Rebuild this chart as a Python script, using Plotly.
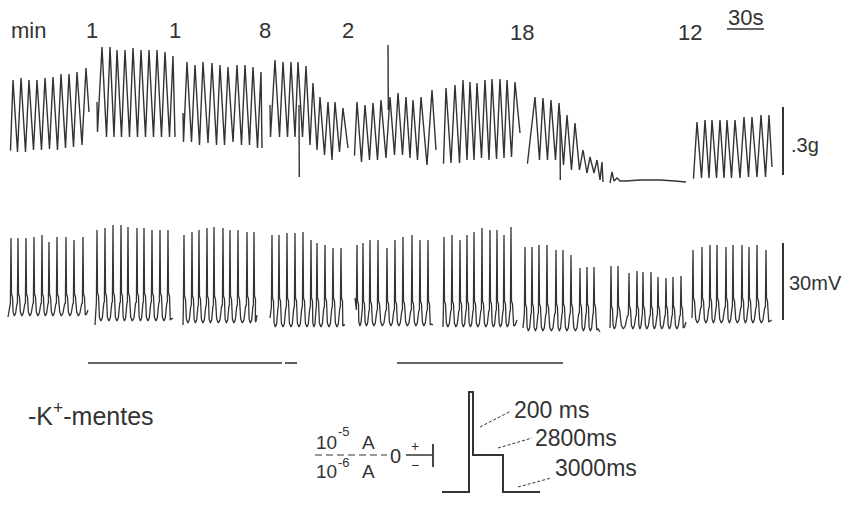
import plotly.graph_objects as go

W, H = 846, 506
INK = "#333333"
FONT = "Liberation Sans, Arial, sans-serif"

# ---------------- top trace: contraction force (screen units, y downward) -------------
force_start_x = [10, 97, 183, 270, 354, 443, 527, 693]
force_start_top = [150, 102, 113, 105, 155, 163, 163, 178]
force_start_bottom = [150, 132, 142, 137, 155, 163, 163, 178]
force_peak_x = [
    [13, 21, 29, 37, 45, 53, 61, 69, 77, 86],
    [102, 110, 117, 125, 133, 141, 149, 157, 165, 173],
    [187, 195, 203, 212, 220, 228, 237, 245, 253, 261],
    [275, 283, 291, 298, 306, 313, 320, 328, 335, 343],
    [357, 365, 373, 381, 390, 398, 406, 413, 421, 432],
    [446, 455, 463, 470, 477, 485, 492, 500, 507, 515],
    [535, 543, 551, 559, 567, 575, 583, 590, 597, 602],
    [697, 705, 712, 720, 727, 735, 744, 752, 761, 769],
]
force_peak_y = [
    [80, 78, 80, 80, 78, 77, 74, 74, 72, 68],
    [47, 47, 50, 50, 48, 50, 50, 50, 52, 56],
    [62, 65, 62, 63, 65, 67, 65, 65, 67, 72],
    [60, 62, 62, 62, 66, 83, 97, 102, 102, 108],
    [102, 105, 103, 100, 97, 93, 97, 100, 97, 90],
    [88, 85, 80, 82, 83, 80, 79, 79, 80, 82],
    [97, 98, 100, 103, 115, 123, 150, 157, 160, 162],
    [122, 120, 120, 120, 120, 120, 117, 117, 115, 115],
]
force_trough_y = [
    [152, 152, 150, 150, 149, 150, 148, 147, 145],
    [137, 137, 137, 137, 137, 137, 137, 137, 137],
    [142, 145, 143, 145, 145, 142, 145, 145, 148],
    [137, 137, 137, 137, 145, 150, 155, 160, 152],
    [162, 160, 160, 158, 155, 155, 158, 160, 165],
    [163, 163, 160, 160, 158, 160, 159, 158, 157],
    [160, 160, 160, 165, 170, 170, 173, 173, 180],
    [178, 178, 178, 178, 178, 178, 177, 177, 177],
]
force_end_x = [89, 175, 262, 348, 436, 520, 603, 772]
force_end_y = [112, 137, 148, 148, 150, 133, 182, 167]

force_artifact_x = [299, 388, 560]
force_artifact_top = [105, 45, 115]
force_artifact_bottom = [177, 110, 180]

force_flat_x = [610, 612, 614, 617, 620, 626, 640, 660, 675, 686]
force_flat_y = [183, 172, 181, 178, 181, 181, 180, 180, 181, 182]

# ---------------- bottom trace: membrane potential -------------
mp_start_x = [8, 95, 183, 270, 355, 443, 523, 610, 692]
mp_start_y = [317, 325, 325, 318, 298, 327, 328, 328, 318]
mp_spike_x = [
    [11, 18, 26, 34, 42, 49, 57, 66, 74, 83],
    [97, 105, 113, 121, 128, 137, 144, 152, 160, 168],
    [184, 192, 199, 207, 214, 223, 230, 238, 247, 254],
    [272, 279, 287, 295, 303, 311, 317, 325, 333, 341],
    [357, 363, 370, 378, 387, 395, 403, 412, 420, 428],
    [444, 452, 460, 467, 474, 482, 490, 497, 504, 511],
    [525, 532, 539, 547, 556, 563, 571, 580, 587, 594],
    [611, 618, 629, 637, 643, 651, 658, 666, 673, 681],
    [693, 702, 710, 717, 726, 733, 742, 749, 757, 766],
]
mp_spike_top = [
    [238, 238, 238, 237, 235, 242, 237, 237, 240, 237],
    [230, 228, 225, 225, 227, 228, 228, 230, 230, 230],
    [235, 232, 230, 228, 227, 228, 230, 230, 232, 232],
    [235, 235, 233, 233, 232, 240, 243, 245, 248, 248],
    [245, 243, 240, 240, 248, 240, 237, 235, 240, 240],
    [237, 235, 240, 235, 232, 228, 230, 230, 235, 227],
    [247, 247, 245, 245, 250, 250, 255, 268, 267, 267],
    [266, 266, 273, 271, 272, 272, 277, 278, 277, 276],
    [250, 247, 245, 245, 247, 245, 245, 247, 245, 250],
]
mp_plateau = [298, 297, 300, 302, 305, 305, 308, 310, 302]
mp_trough = [315, 320, 322, 326, 325, 326, 330, 328, 322]
mp_end_x = [88, 173, 257, 345, 433, 517, 600, 686, 772]
mp_end_y = [310, 318, 315, 325, 325, 320, 332, 322, 320]

# ---------------- annotations / calibration -------------
top_labels = ["min", "1", "1", "8", "2", "18", "12"]
top_label_x = [28, 92, 175, 265, 348, 522, 690]
top_label_y = [30, 30, 30, 30, 30, 32, 32]

time_bar_label = "30s"
force_cal_label = ".3g"
mp_cal_label = "30mV"
cal_bar_x = [783, 783]
cal_bar_top = [107, 243]
cal_bar_bottom = [175, 320]

treatment_bar_x0 = [88, 285, 397]
treatment_bar_x1 = [282, 297, 563]
treatment_bar_y = 363

pulse_x = [442, 469, 469, 473, 473, 503, 503, 540]
pulse_y = [492, 492, 392, 392, 455, 455, 492, 492]
pulse_labels = ["200 ms", "2800ms", "3000ms"]
pulse_label_x = [512, 533, 553]
pulse_label_y = [410, 438, 468]
leader_x0 = [480, 498, 518]
leader_y0 = [427, 448, 487]
leader_x1 = [511, 532, 551]
leader_y1 = [411, 438, 478]


def force_path():
    xs, ys = [], []
    for k in range(len(force_peak_x)):
        xs += [force_start_x[k], force_start_x[k] + 0.5]
        ys += [force_start_top[k], force_start_bottom[k]]
        px, py, ty = force_peak_x[k], force_peak_y[k], force_trough_y[k]
        for i in range(len(px)):
            xs.append(px[i]); ys.append(py[i])
            if i < len(px) - 1:
                xs.append((px[i] + px[i + 1]) / 2 + 0.5); ys.append(ty[i])
        xs += [force_end_x[k], None]
        ys += [force_end_y[k], None]
    for x, t, b in zip(force_artifact_x, force_artifact_top, force_artifact_bottom):
        xs += [x, x + 0.3, None]
        ys += [t, b, None]
    xs += force_flat_x + [None]
    ys += force_flat_y + [None]
    return xs, ys


def mp_path():
    xs, ys = [], []
    for k in range(len(mp_spike_x)):
        sx, st = mp_spike_x[k], mp_spike_top[k]
        pl, tr = mp_plateau[k], mp_trough[k]
        xs.append(mp_start_x[k]); ys.append(mp_start_y[k])
        for i in range(len(sx)):
            nxt = sx[i + 1] if i < len(sx) - 1 else mp_end_x[k]
            p = nxt - sx[i]
            xs += [sx[i] - 0.6, sx[i], sx[i] + 0.5, sx[i] + 1.5]
            ys += [pl + 5, st[i], pl - 4, pl - 1]
            if i < len(sx) - 1:
                xs += [sx[i] + 0.3 * p, sx[i] + 0.48 * p, sx[i] + 0.66 * p, sx[i] + 0.85 * p]
                ys += [tr - 3, tr + 1, tr - 2, pl + 6]
            else:
                xs += [sx[i] + 0.45 * p, sx[i] + 0.7 * p]
                ys += [tr, tr - 1]
        xs += [mp_end_x[k], None]
        ys += [mp_end_y[k], None]
    return xs, ys


fig = go.Figure()
fx, fy = force_path()
fig.add_trace(go.Scatter(x=fx, y=fy, mode="lines",
                         line=dict(color=INK, width=1.4, simplify=False),
                         connectgaps=False, hoverinfo="skip"))
mx, my = mp_path()
fig.add_trace(go.Scatter(x=mx, y=my, mode="lines",
                         line=dict(color=INK, width=1.3, simplify=False),
                         connectgaps=False, hoverinfo="skip"))
# pulse protocol
fig.add_trace(go.Scatter(x=pulse_x, y=pulse_y, mode="lines",
                         line=dict(color=INK, width=2, simplify=False), hoverinfo="skip"))
# leaders
for a, b, c, d in zip(leader_x0, leader_y0, leader_x1, leader_y1):
    fig.add_trace(go.Scatter(x=[a, c], y=[b, d], mode="lines",
                             line=dict(color=INK, width=1, dash="3px,2px"), hoverinfo="skip"))

shapes = []
for x, t, b in zip(cal_bar_x, cal_bar_top, cal_bar_bottom):
    shapes.append(dict(type="line", x0=x, x1=x, y0=t, y1=b, line=dict(color=INK, width=2)))
for a, b in zip(treatment_bar_x0, treatment_bar_x1):
    shapes.append(dict(type="line", x0=a, x1=b, y0=treatment_bar_y, y1=treatment_bar_y,
                       line=dict(color=INK, width=1.6)))
# 30 s underline
shapes.append(dict(type="line", x0=727, x1=764, y0=29, y1=29, line=dict(color=INK, width=1.5)))
# fraction dashes and switch symbol
shapes.append(dict(type="line", x0=315, x1=387, y0=455, y1=455,
                   line=dict(color=INK, width=1.2, dash="7px,4px")))
shapes.append(dict(type="line", x0=406, x1=433, y0=455, y1=455, line=dict(color=INK, width=1.5)))
shapes.append(dict(type="line", x0=433, x1=433, y0=444, y1=467, line=dict(color=INK, width=1.8)))
for s in shapes:
    s.update(xref="x", yref="y")

ann = []


def txt(t, x, y, size=20, xanchor="center"):
    ann.append(dict(text=t, x=x, y=y, xref="x", yref="y", showarrow=False,
                    xanchor=xanchor, yanchor="middle",
                    font=dict(family=FONT, size=size, color=INK)))


for t, x, y in zip(top_labels, top_label_x, top_label_y):
    txt(t, x, y, 22)
txt(time_bar_label, 745, 17, 22)
txt(force_cal_label, 789, 145, 20, "left")
txt(mp_cal_label, 787, 283, 20, "left")
txt("-K<sup>+</sup>-mentes", 26, 414, 25, "left")
txt("10", 314, 442, 19, "left")
txt("-5", 336, 431, 13, "left")
txt("A", 360, 442, 19, "left")
txt("10", 314, 471, 19, "left")
txt("-6", 336, 462, 13, "left")
txt("A", 360, 471, 19, "left")
txt("0", 395, 456, 20)
txt("+", 415, 446, 14)
txt("−", 415, 465, 14)
for t, x, y in zip(pulse_labels, pulse_label_x, pulse_label_y):
    txt(t, x, y, 23, "left")

fig.update_layout(
    width=W, height=H, margin=dict(l=0, r=0, t=0, b=0),
    paper_bgcolor="white", plot_bgcolor="white", showlegend=False,
    xaxis=dict(range=[0, W], visible=False, fixedrange=True),
    yaxis=dict(range=[H, 0], visible=False, fixedrange=True),
    shapes=shapes, annotations=ann,
)
fig.write_html("out.html", config={"displayModeBar": False},
               post_script="document.body.style.margin='0';document.body.style.overflow='hidden';")
